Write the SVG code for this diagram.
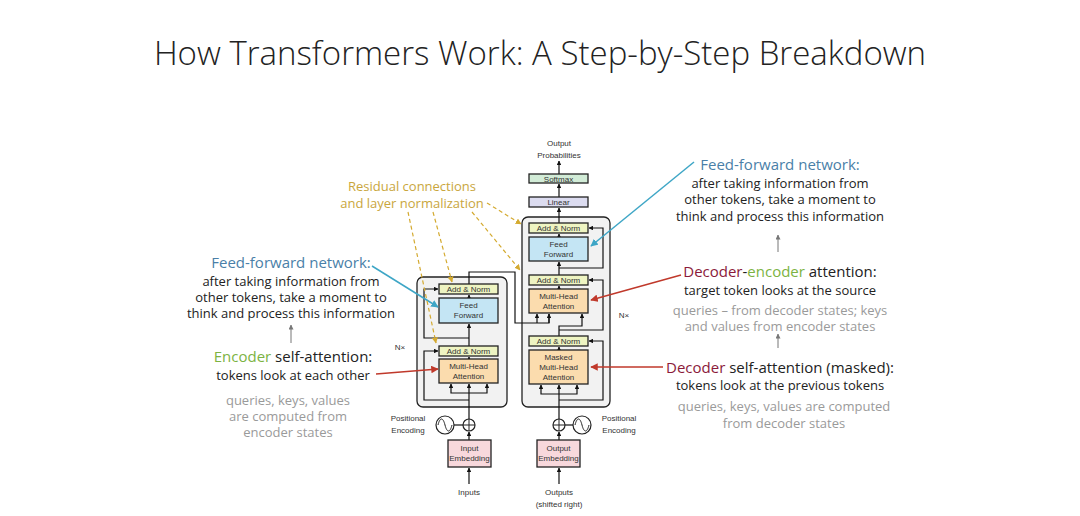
<svg xmlns="http://www.w3.org/2000/svg" width="1080" height="516" viewBox="0 0 1080 516">
<defs>
<marker id="ah" viewBox="0 0 10 10" refX="9" refY="5" markerWidth="4" markerHeight="4" orient="auto"><path d="M0,0L10,5L0,10z" fill="#111"/></marker>
<marker id="ab" viewBox="0 0 10 10" refX="9" refY="5" markerWidth="5" markerHeight="5" orient="auto"><path d="M0,0L10,5L0,10z" fill="#3ea6c6"/></marker>
<marker id="ar" viewBox="0 0 10 10" refX="9" refY="5" markerWidth="5" markerHeight="5" orient="auto"><path d="M0,0L10,5L0,10z" fill="#c0392b"/></marker>
<marker id="ay" viewBox="0 0 10 10" refX="9" refY="5" markerWidth="5" markerHeight="5" orient="auto"><path d="M0,0L10,5L0,10z" fill="#d4aa30"/></marker>
<marker id="ag" viewBox="0 0 10 10" refX="9" refY="5" markerWidth="5" markerHeight="5" orient="auto"><path d="M0,0L10,5L0,10z" fill="#777"/></marker>
</defs>
<style>
.t{font-family:"Open Sans","Liberation Sans",sans-serif;text-anchor:middle}
.s{font-family:"Liberation Sans",sans-serif;font-size:8px;text-anchor:middle;fill:#333}
.d{fill:#222;font-size:13px}
.g{fill:#9a9a9a;font-size:13px}
.h{font-size:15px;fill:#222}
.b{rect-stroke:none}
.box{stroke:#222;stroke-width:1.3}
.an{fill:#eef4c2}.ff{fill:#c4e5f4}.mh{fill:#fbdcae}.em{fill:#f8d8dc}
.w{fill:none;stroke:#111;stroke-width:1.2}
</style>
<rect width="1080" height="516" fill="#fff"/>
<text class="t" x="540" y="65" font-size="33" font-weight="300" fill="#222">How Transformers Work: A Step-by-Step Breakdown</text>

<g id="encoder-stack">
<rect x="417" y="277" width="90" height="130" rx="6" fill="#f2f2f2" stroke="#222" stroke-width="1.3"/>
<text class="s" x="400" y="350">N×</text>
</g>
<g id="decoder-stack">
<rect x="522" y="217" width="88" height="190" rx="6" fill="#f2f2f2" stroke="#222" stroke-width="1.3"/>
<text class="s" x="624" y="318">N×</text>
</g>

<g id="connectors">
<!-- encoder -->
<path class="w" d="M469,484V468" marker-end="url(#ah)"/>
<path class="w" d="M469,440V432" marker-end="url(#ah)"/>
<path class="w" d="M469,419V384" marker-end="url(#ah)"/>
<path class="w" d="M469,393H451V384" marker-end="url(#ah)"/>
<path class="w" d="M469,393H487V384" marker-end="url(#ah)"/>
<path class="w" d="M469,400H424V351H438" marker-end="url(#ah)"/>
<path class="w" d="M469,359V357" marker-end="url(#ah)"/>
<path class="w" d="M469,346V324" marker-end="url(#ah)"/>
<path class="w" d="M469,338H424V289H438" marker-end="url(#ah)"/>
<path class="w" d="M469,298V295" marker-end="url(#ah)"/>
<path class="w" d="M469,284V272H515V323H549V314" />
<path class="w" d="M537,323V314" marker-end="url(#ah)"/>
<path class="w" d="M549,323V314" marker-end="url(#ah)"/>
<!-- decoder -->
<path class="w" d="M559,484V468" marker-end="url(#ah)"/>
<path class="w" d="M559,440V432" marker-end="url(#ah)"/>
<path class="w" d="M559,419V385" marker-end="url(#ah)"/>
<path class="w" d="M559,394H541V385" marker-end="url(#ah)"/>
<path class="w" d="M559,394H577V385" marker-end="url(#ah)"/>
<path class="w" d="M559,400H603V341H589" marker-end="url(#ah)"/>
<path class="w" d="M559,350V347" marker-end="url(#ah)"/>
<path class="w" d="M559,336V326H582V314" marker-end="url(#ah)"/>
<path class="w" d="M559,330H603V280H589" marker-end="url(#ah)"/>
<path class="w" d="M559,289V286" marker-end="url(#ah)"/>
<path class="w" d="M559,275V262" marker-end="url(#ah)"/>
<path class="w" d="M559,268H603V228H589" marker-end="url(#ah)"/>
<path class="w" d="M559,237V234" marker-end="url(#ah)"/>
<path class="w" d="M559,223V208" marker-end="url(#ah)"/>
<path class="w" d="M559,197V184" marker-end="url(#ah)"/>
<path class="w" d="M559,174V161" marker-end="url(#ah)"/>
<!-- positional encoding -->
<path class="w" d="M454,425H463"/>
<path class="w" d="M565,425H573"/>
</g>

<g id="enc-addnorm2"><rect class="box an" x="439" y="284" width="59" height="10"/><text class="s" x="468.5" y="292">Add &amp; Norm</text></g>
<g id="enc-ff"><rect class="box ff" x="439" y="298" width="59" height="25"/><text class="s" x="468.5" y="308">Feed</text><text class="s" x="468.5" y="318">Forward</text></g>
<g id="enc-addnorm1"><rect class="box an" x="439" y="346" width="59" height="10"/><text class="s" x="468.5" y="354">Add &amp; Norm</text></g>
<g id="enc-mha"><rect class="box mh" x="439" y="359" width="59" height="24"/><text class="s" x="468.5" y="369">Multi-Head</text><text class="s" x="468.5" y="379">Attention</text></g>
<g id="enc-pe"><circle cx="445" cy="425" r="9" fill="#fff" stroke="#222" stroke-width="1.2"/><path d="M438,425c2,-8 5,-8 7,0s5,8 7,0" fill="none" stroke="#222"/><circle cx="469" cy="425" r="6" fill="#fff" stroke="#222" stroke-width="1.2"/><path d="M463,425h12M469,419v12" stroke="#222"/><text class="s" x="408" y="421" font-size="9">Positional</text><text class="s" x="408" y="433" font-size="9">Encoding</text></g>
<g id="enc-emb"><rect class="box em" x="448" y="440" width="43" height="27"/><text class="s" x="469.5" y="451">Input</text><text class="s" x="469.5" y="461">Embedding</text><text class="s" x="469" y="495" font-size="9">Inputs</text></g>

<g id="dec-addnorm3"><rect class="box an" x="529" y="223" width="59" height="10"/><text class="s" x="558.5" y="231">Add &amp; Norm</text></g>
<g id="dec-ff"><rect class="box ff" x="529" y="237" width="59" height="24"/><text class="s" x="558.5" y="247">Feed</text><text class="s" x="558.5" y="257">Forward</text></g>
<g id="dec-addnorm2"><rect class="box an" x="529" y="275" width="59" height="10"/><text class="s" x="558.5" y="283">Add &amp; Norm</text></g>
<g id="dec-mha"><rect class="box mh" x="529" y="289" width="59" height="24"/><text class="s" x="558.5" y="299">Multi-Head</text><text class="s" x="558.5" y="309">Attention</text></g>
<g id="dec-addnorm1"><rect class="box an" x="529" y="336" width="59" height="10"/><text class="s" x="558.5" y="344">Add &amp; Norm</text></g>
<g id="dec-mmha"><rect class="box mh" x="529" y="350" width="59" height="34"/><text class="s" x="558.5" y="360">Masked</text><text class="s" x="558.5" y="370">Multi-Head</text><text class="s" x="558.5" y="380">Attention</text></g>
<g id="dec-linear"><rect class="box" x="529" y="197" width="59" height="10" fill="#dcdcf0"/><text class="s" x="558.5" y="205">Linear</text></g>
<g id="dec-softmax"><rect class="box" x="529" y="174" width="59" height="9" fill="#d2ecd7"/><text class="s" x="558.5" y="181.5">Softmax</text></g>
<g id="dec-out"><text class="s" x="559" y="146" font-size="9">Output</text><text class="s" x="559" y="158" font-size="9">Probabilities</text></g>
<g id="dec-pe"><circle cx="582" cy="425" r="9" fill="#fff" stroke="#222" stroke-width="1.2"/><path d="M575,425c2,-8 5,-8 7,0s5,8 7,0" fill="none" stroke="#222"/><circle cx="559" cy="425" r="6" fill="#fff" stroke="#222" stroke-width="1.2"/><path d="M553,425h12M559,419v12" stroke="#222"/><text class="s" x="619" y="421" font-size="9">Positional</text><text class="s" x="619" y="433" font-size="9">Encoding</text></g>
<g id="dec-emb"><rect class="box em" x="537" y="440" width="43" height="27"/><text class="s" x="558.5" y="451">Output</text><text class="s" x="558.5" y="461">Embedding</text><text class="s" x="559" y="495" font-size="9">Outputs</text><text class="s" x="559" y="507" font-size="9">(shifted right)</text></g>

<g id="annotation-arrows" fill="none" stroke-width="1.5">
<path d="M372,266L438,307" stroke="#3ea6c6" marker-end="url(#ab)"/>
<path d="M694,162L591,246" stroke="#3ea6c6" marker-end="url(#ab)"/>
<path d="M376,374L438,369" stroke="#c0392b" marker-end="url(#ar)"/>
<path d="M681,275L591,300" stroke="#c0392b" marker-end="url(#ar)"/>
<path d="M663,367L591,367" stroke="#c0392b" marker-end="url(#ar)"/>
<g stroke="#d4aa30" stroke-dasharray="4,3" stroke-width="1.2">
<path d="M408,212L436,343" marker-end="url(#ay)"/>
<path d="M433,212L452,282" marker-end="url(#ay)"/>
<path d="M472,212L520,270" marker-end="url(#ay)"/>
<path d="M487,203L521,224" marker-end="url(#ay)"/>
</g>
<path d="M291,343V325" stroke="#777" stroke-width="1" marker-end="url(#ag)"/>
<path d="M778,252V235" stroke="#777" stroke-width="1" marker-end="url(#ag)"/>
<path d="M778,348V334" stroke="#777" stroke-width="1" marker-end="url(#ag)"/>
</g>

<g id="residual-label" class="t" font-size="13" fill="#c9a63d"><text x="412" y="191">Residual connections</text><text x="412" y="208">and layer normalization</text></g>

<g id="left-notes" class="t">
<text class="h" x="291" y="268"><tspan fill="#4a7fa8">Feed-forward network:</tspan></text>
<text class="d" x="291" y="286">after taking information from</text>
<text class="d" x="291" y="302">other tokens, take a moment to</text>
<text class="d" x="291" y="318">think and process this information</text>
<text class="h" x="293" y="362"><tspan fill="#7cb342">Encoder</tspan> self-attention:</text>
<text class="d" x="293" y="380">tokens look at each other</text>
<text class="g" x="288" y="405">queries, keys, values</text>
<text class="g" x="288" y="421">are computed from</text>
<text class="g" x="288" y="437">encoder states</text>
</g>
<g id="right-notes" class="t">
<text class="h" x="780" y="170"><tspan fill="#4a7fa8">Feed-forward network:</tspan></text>
<text class="d" x="780" y="188">after taking information from</text>
<text class="d" x="780" y="204">other tokens, take a moment to</text>
<text class="d" x="780" y="221">think and process this information</text>
<text class="h" x="780" y="277"><tspan fill="#8b1a3a">Decoder</tspan>-<tspan fill="#7cb342">encoder</tspan> attention:</text>
<text class="d" x="780" y="295">target token looks at the source</text>
<text class="g" x="780" y="315">queries – from decoder states; keys</text>
<text class="g" x="780" y="331">and values from encoder states</text>
<text class="h" x="780" y="373"><tspan fill="#8b1a3a">Decoder</tspan> self-attention (masked):</text>
<text class="d" x="780" y="390">tokens look at the previous tokens</text>
<text class="g" x="784" y="411">queries, keys, values are computed</text>
<text class="g" x="784" y="428">from decoder states</text>
</g>
</svg>
